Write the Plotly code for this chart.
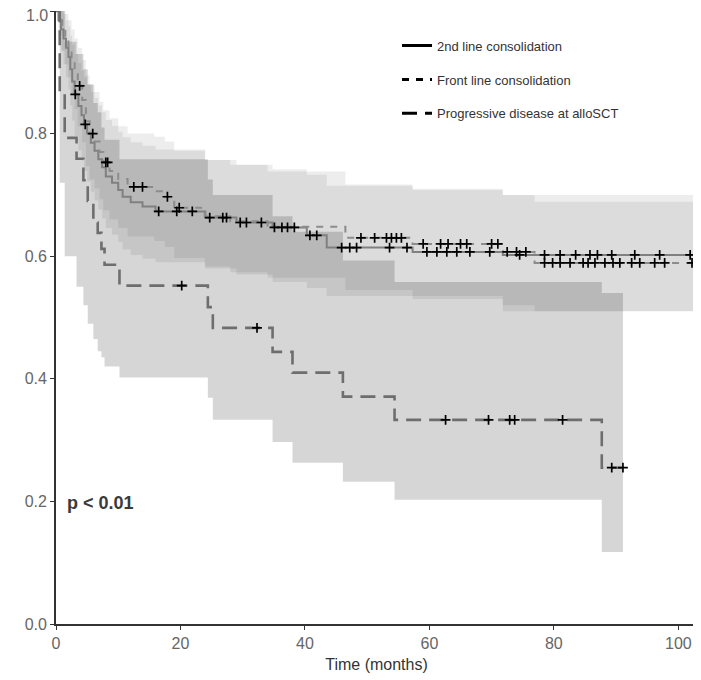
import numpy as np
import plotly.graph_objects as go

# ---------------- data ----------------
# 2nd line consolidation (solid)
A_t = [0, 0.4, 0.8, 1.2, 1.6, 2.0, 2.3, 2.6, 3.0, 3.6, 4.1, 4.5, 5.0, 5.6, 6.2, 6.8, 7.4, 8.0, 9.0, 10.0,
       10.7, 12.0, 13.9, 16.0, 24.0, 29.0, 34.8, 40.3, 43.5, 57.3, 71.8]
A_S = [1.0, 0.985, 0.97, 0.955, 0.94, 0.925, 0.905, 0.885, 0.864, 0.845, 0.83, 0.815, 0.80, 0.785, 0.772, 0.758,
       0.745, 0.73, 0.72, 0.708, 0.697, 0.688, 0.681, 0.673, 0.663, 0.655, 0.647, 0.634, 0.614, 0.607, 0.602]
A_lower = [1.0, 0.96, 0.935, 0.913, 0.892, 0.872, 0.846, 0.821, 0.796, 0.773, 0.756, 0.739, 0.722, 0.705, 0.691,
           0.676, 0.662, 0.646, 0.635, 0.623, 0.611, 0.602, 0.596, 0.59, 0.58, 0.57, 0.558, 0.548, 0.535, 0.53, 0.51]
A_upper = [1.0, 1.0, 1.0, 0.995, 0.985, 0.975, 0.96, 0.945, 0.93, 0.915, 0.903, 0.892, 0.88, 0.868, 0.858,
           0.846, 0.835, 0.822, 0.813, 0.803, 0.794, 0.786, 0.78, 0.774, 0.757, 0.749, 0.742, 0.733, 0.715, 0.71, 0.70]
A_end = 103.0
A_cens = [3.1, 4.7, 16.5, 19.4, 21.9, 24.7, 26.8, 27.4, 29.6, 30.6, 33.0, 35.1, 36.3, 37.2, 38.3, 40.8, 41.9,
          45.9, 47.2, 48.3, 53.6, 56.4, 59.6, 61.2, 62.8, 64.4, 66.5, 69.7, 74.5, 78.5, 81.0, 83.5, 85.8, 87.0,
          89.3, 93.0, 97.0, 101.9]

# Front line consolidation (short dash)
B_t = [0, 0.5, 1.0, 1.5, 2.0, 2.5, 3.0, 3.5, 4.2, 4.8, 5.4, 6.2, 7.0, 7.6, 8.6, 10.0, 11.5, 15.8, 17.5, 19.0,
       23.9, 28.0, 34.0, 46.5, 57.3, 71.8, 76.9]
B_S = [1.0, 0.985, 0.97, 0.955, 0.94, 0.92, 0.90, 0.878, 0.855, 0.82, 0.80, 0.787, 0.77, 0.753, 0.739, 0.726,
       0.713, 0.706, 0.697, 0.679, 0.665, 0.657, 0.648, 0.630, 0.620, 0.607, 0.589]
B_lower = [1.0, 0.96, 0.935, 0.913, 0.892, 0.866, 0.84, 0.812, 0.786, 0.747, 0.725, 0.711, 0.693, 0.675, 0.66,
           0.646, 0.632, 0.625, 0.615, 0.597, 0.583, 0.574, 0.565, 0.545, 0.535, 0.52, 0.51]
B_upper = [1.0, 1.0, 1.0, 0.995, 0.985, 0.97, 0.955, 0.94, 0.92, 0.895, 0.88, 0.868, 0.852, 0.838, 0.825,
           0.812, 0.80, 0.795, 0.787, 0.772, 0.757, 0.749, 0.738, 0.717, 0.708, 0.70, 0.689]
B_end = 103.0
B_cens = [3.8, 5.9, 8.0, 8.3, 12.5, 13.9, 17.9, 19.8, 49.0, 51.2, 53.1, 53.9, 54.7, 55.5, 59.0, 61.8, 63.0,
          65.0, 66.0, 70.0, 71.0, 72.5, 74.0, 75.5, 78.5, 79.8, 81.0, 82.6, 84.7, 85.5, 86.6, 88.2, 89.5,
          90.6, 92.5, 93.8, 96.2, 97.8, 102.2]

# Progressive disease at alloSCT (long dash)
P_t = [0, 0.6, 1.4, 3.3, 4.4, 5.1, 6.0, 6.7, 7.3, 7.8, 10.2, 24.4, 25.2, 34.8, 38.0, 46.1, 54.4, 87.7]
P_S = [1.0, 0.862, 0.793, 0.759, 0.724, 0.690, 0.655, 0.638, 0.612, 0.586, 0.552, 0.517, 0.483, 0.444,
       0.410, 0.371, 0.333, 0.255]
P_lower = [1.0, 0.72, 0.60, 0.55, 0.52, 0.49, 0.465, 0.445, 0.435, 0.42, 0.402, 0.369, 0.333, 0.297,
           0.263, 0.232, 0.2025, 0.1175]
P_upper = [1.0, 1.0, 0.95, 0.93, 0.905, 0.88, 0.85, 0.835, 0.81, 0.79, 0.758, 0.725, 0.70, 0.665, 0.64,
           0.593, 0.558, 0.54]
P_end = 91.1
P_cens = [20.2, 32.3, 62.6, 69.5, 72.9, 73.7, 81.4, 89.3, 91.1]

legend_names = ["2nd line consolidation", "Front line consolidation", "Progressive disease at alloSCT"]
x_ticks = [0, 20, 40, 60, 80, 100]
y_ticks = [0.0, 0.2, 0.4, 0.6, 0.8, 1.0]
y_tick_labels = ["0.0", "0.2", "0.4", "0.6", "0.8", "1.0"]
p_text = "p < 0.01"

# ---------------- helpers ----------------
def ext(t, v, end):
    return list(t) + [end], list(v) + [v[-1]]

def at(t, s, x):
    t = np.asarray(t); s = np.asarray(s)
    return [float(s[np.searchsorted(t, xi, side="right") - 1]) for xi in x]

groups = [
    dict(t=A_t, s=A_S, lo=A_lower, up=A_upper, end=A_end, cens=A_cens,
         fill="rgba(0,0,0,0.07)", color="#808080", dash="solid", width=2.0),
    dict(t=B_t, s=B_S, lo=B_lower, up=B_upper, end=B_end, cens=B_cens,
         fill="rgba(0,0,0,0.07)", color="#8c8c8c", dash="7px,7px", width=2.0),
    dict(t=P_t, s=P_S, lo=P_lower, up=P_upper, end=P_end, cens=P_cens,
         fill="rgba(0,0,0,0.16)", color="#6e6e6e", dash="15px,8px", width=2.6),
]

fig = go.Figure()

# confidence bands
for g in [groups[2], groups[0], groups[1]]:
    x, lo = ext(g["t"], g["lo"], g["end"])
    _, up = ext(g["t"], g["up"], g["end"])
    fig.add_trace(go.Scatter(x=x, y=lo, mode="lines", line=dict(width=0, shape="hv"),
                             showlegend=False, hoverinfo="skip"))
    fig.add_trace(go.Scatter(x=x, y=up, mode="lines", line=dict(width=0, shape="hv"),
                             fill="tonexty", fillcolor=g["fill"], showlegend=False, hoverinfo="skip"))

# curves
for g in groups:
    x, s = ext(g["t"], g["s"], g["end"])
    fig.add_trace(go.Scatter(x=x, y=s, mode="lines",
                             line=dict(color=g["color"], width=g["width"], dash=g["dash"], shape="hv"),
                             showlegend=False, hoverinfo="skip"))

# censor marks
for g in groups:
    fig.add_trace(go.Scatter(x=g["cens"], y=at(g["t"], g["s"], g["cens"]), mode="markers",
                             marker=dict(symbol="cross-thin", size=7, line=dict(color="black", width=1.7)),
                             showlegend=False, hoverinfo="skip"))

# legend entries (black)
for i, (g, name) in enumerate(zip(groups, legend_names)):
    fig.add_trace(go.Scatter(x=[None], y=[None], mode="lines", name=name, legendgroup=f"g{i}",
                             line=dict(color="black", width=3, dash=g["dash"])))

fig.add_annotation(x=1.4, y=0.1975, xref="x", yref="y", text=p_text, showarrow=False,
                   xanchor="left", yanchor="middle",
                   font=dict(family="Liberation Sans, Arial", size=18, color="#3a3a3a", weight="bold"))

# the top tick label would be hidden by the figure edge, so it is written as an annotation
tick_font = dict(family="Liberation Sans, Arial", size=16, color="#666666")
shown_labels = y_tick_labels[:-1] + [""]
fig.add_annotation(x=0, y=y_ticks[-1], xref="paper", yref="y", text=y_tick_labels[-1], showarrow=False,
                   xanchor="right", yanchor="top", xshift=-6, yshift=6, font=tick_font)

# the page body adds an 8px offset, so the figure is 8px smaller than the window
fig.update_layout(
    width=693, height=672,
    margin=dict(l=48, r=4, t=3, b=56),
    plot_bgcolor="white", paper_bgcolor="white",
    font=dict(family="Liberation Sans, Arial", size=13, color="#333333"),
    legend=dict(x=0.532, y=0.968, xanchor="left", yanchor="top", bgcolor="rgba(0,0,0,0)",
                tracegroupgap=14, font=dict(size=13, color="#333333")),
    xaxis=dict(range=[0, 103], tickvals=x_ticks, showline=True, linecolor="#333333", linewidth=1.8,
               ticks="outside", ticklen=4, tickcolor="#333333", showgrid=False, zeroline=False,
               automargin=False, tickfont=tick_font,
               title=dict(text="Time (months)", font=dict(size=16, color="#333333"), standoff=8)),
    yaxis=dict(range=[0, 1.0], tickvals=y_ticks, ticktext=shown_labels, showline=True,
               linecolor="#333333", linewidth=1.8, ticks="outside", ticklen=4, tickcolor="#333333",
               automargin=False, showgrid=False, zeroline=False, tickfont=tick_font),
)

fig.write_html("out.html")
